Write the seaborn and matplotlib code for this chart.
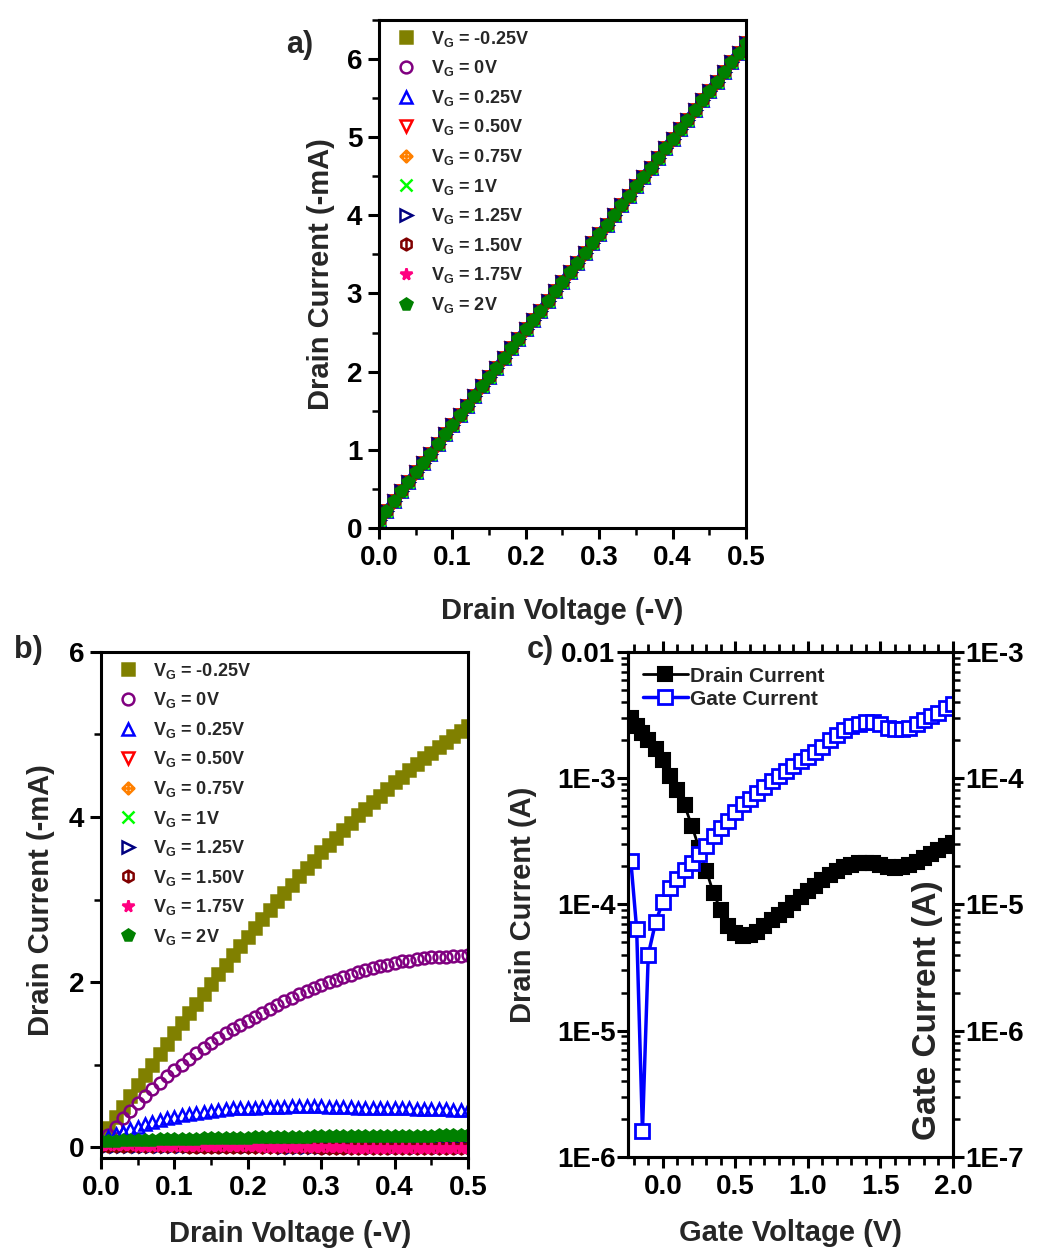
import numpy as np
import matplotlib
matplotlib.use("Agg")
import matplotlib.pyplot as plt
import seaborn as sns
from matplotlib.path import Path
from matplotlib.ticker import MultipleLocator, LogLocator, NullFormatter, FixedLocator

# ---------------------------------------------
# DATA
# ---------------------------------------------
# drain voltage sweep (-V), panels a and b
vd = [0.00, 0.01, 0.02, 0.03, 0.04, 0.05, 0.06, 0.07, 0.08, 0.09,
      0.10, 0.11, 0.12, 0.13, 0.14, 0.15, 0.16, 0.17, 0.18, 0.19,
      0.20, 0.21, 0.22, 0.23, 0.24, 0.25, 0.26, 0.27, 0.28, 0.29,
      0.30, 0.31, 0.32, 0.33, 0.34, 0.35, 0.36, 0.37, 0.38, 0.39,
      0.40, 0.41, 0.42, 0.43, 0.44, 0.45, 0.46, 0.47, 0.48, 0.49,
      0.50]

vg_labels = ["-0.25V", "0V", "0.25V", "0.50V", "0.75V",
             "1V", "1.25V", "1.50V", "1.75V", "2V"]

# panel a: all gate voltages lie on the same straight line (-mA)
ia_all = [0.10, 0.22, 0.34, 0.47, 0.59, 0.71, 0.83, 0.95, 1.08, 1.20,
          1.32, 1.44, 1.56, 1.69, 1.81, 1.93, 2.05, 2.17, 2.30, 2.42,
          2.54, 2.66, 2.78, 2.91, 3.03, 3.15, 3.27, 3.39, 3.52, 3.64,
          3.76, 3.88, 4.00, 4.13, 4.25, 4.37, 4.49, 4.61, 4.74, 4.86,
          4.98, 5.10, 5.22, 5.35, 5.47, 5.59, 5.71, 5.83, 5.96, 6.08,
          6.20]

# panel b: drain current (-mA) for each gate voltage
ib_m025 = [0.10, 0.23, 0.36, 0.49, 0.62, 0.75, 0.88, 1.00, 1.13, 1.25,
           1.38, 1.50, 1.62, 1.74, 1.86, 1.98, 2.10, 2.21, 2.33, 2.44,
           2.55, 2.66, 2.77, 2.87, 2.98, 3.08, 3.18, 3.28, 3.38, 3.47,
           3.57, 3.66, 3.75, 3.84, 3.93, 4.02, 4.10, 4.18, 4.26, 4.34,
           4.42, 4.49, 4.57, 4.64, 4.71, 4.78, 4.85, 4.91, 4.98, 5.04,
           5.10]
ib_000 = [0.05, 0.15, 0.25, 0.35, 0.44, 0.53, 0.62, 0.70, 0.78, 0.86,
          0.93, 1.00, 1.07, 1.14, 1.20, 1.26, 1.32, 1.38, 1.43, 1.48,
          1.53, 1.58, 1.63, 1.68, 1.72, 1.77, 1.81, 1.85, 1.89, 1.93,
          1.96, 2.00, 2.03, 2.06, 2.09, 2.12, 2.15, 2.17, 2.19, 2.21,
          2.23, 2.25, 2.26, 2.28, 2.29, 2.30, 2.31, 2.31, 2.32, 2.32,
          2.33]
ib_025 = [0.08, 0.12, 0.16, 0.19, 0.22, 0.25, 0.28, 0.31, 0.33, 0.35,
          0.37, 0.39, 0.40, 0.42, 0.43, 0.44, 0.45, 0.46, 0.47, 0.47,
          0.48, 0.48, 0.49, 0.49, 0.49, 0.49, 0.50, 0.50, 0.50, 0.50,
          0.50, 0.49, 0.49, 0.49, 0.49, 0.48, 0.48, 0.48, 0.48, 0.47,
          0.47, 0.47, 0.47, 0.46, 0.46, 0.46, 0.46, 0.46, 0.45, 0.45,
          0.45]
ib_050 = [0.04, 0.04, 0.04, 0.04, 0.04, 0.04, 0.03, 0.03, 0.03, 0.03,
          0.03, 0.03, 0.03, 0.03, 0.03, 0.03, 0.03, 0.03, 0.03, 0.03,
          0.02, 0.02, 0.02, 0.02, 0.02, 0.02, 0.02, 0.02, 0.02, 0.02,
          0.02, 0.02, 0.02, 0.02, 0.02, 0.02, 0.02, 0.02, 0.02, 0.02,
          0.02, 0.02, 0.02, 0.02, 0.02, 0.02, 0.02, 0.02, 0.02, 0.02,
          0.02]
ib_075 = [0.03, 0.03, 0.03, 0.03, 0.03, 0.03, 0.03, 0.03, 0.03, 0.03,
          0.03, 0.03, 0.03, 0.03, 0.03, 0.03, 0.03, 0.03, 0.03, 0.03,
          0.03, 0.03, 0.03, 0.03, 0.03, 0.03, 0.03, 0.03, 0.03, 0.03,
          0.03, 0.03, 0.03, 0.03, 0.03, 0.03, 0.03, 0.03, 0.03, 0.03,
          0.03, 0.03, 0.03, 0.03, 0.03, 0.03, 0.03, 0.03, 0.03, 0.03,
          0.03]
ib_100 = [0.06, 0.06, 0.06, 0.06, 0.06, 0.06, 0.06, 0.06, 0.06, 0.06,
          0.06, 0.06, 0.06, 0.06, 0.06, 0.06, 0.06, 0.06, 0.06, 0.06,
          0.06, 0.06, 0.06, 0.06, 0.06, 0.07, 0.07, 0.07, 0.07, 0.07,
          0.07, 0.07, 0.07, 0.07, 0.07, 0.07, 0.07, 0.07, 0.07, 0.07,
          0.07, 0.07, 0.07, 0.07, 0.07, 0.07, 0.07, 0.07, 0.07, 0.07,
          0.07]
ib_125 = [0.02, 0.02, 0.02, 0.02, 0.02, 0.02, 0.02, 0.02, 0.02, 0.02,
          0.01, 0.01, 0.01, 0.01, 0.01, 0.01, 0.01, 0.01, 0.01, 0.01,
          0.01, 0.01, 0.01, 0.01, 0.01, 0.00, 0.00, 0.00, 0.00, 0.00,
          0.00, 0.00, 0.00, 0.00, 0.00, 0.00, 0.00, 0.00, 0.00, 0.00,
          0.00, 0.00, 0.00, 0.00, 0.00, 0.00, 0.00, 0.00, 0.00, 0.00,
          0.00]
ib_150 = [0.01, 0.01, 0.01, 0.01, 0.01, 0.01, 0.01, 0.01, 0.01, 0.01,
          0.01, 0.01, 0.00, 0.00, 0.00, 0.00, 0.00, 0.00, 0.00, 0.00,
          0.00, 0.00, 0.00, 0.00, 0.00, 0.00, 0.00, 0.00, 0.00, 0.00,
          -0.01, -0.01, -0.01, -0.01, -0.01, -0.01, -0.01, -0.01, -0.01, -0.01,
          -0.01, -0.01, -0.01, -0.01, -0.01, -0.01, -0.01, -0.01, -0.01, -0.01,
          -0.01]
ib_175 = [0.03, 0.03, 0.03, 0.03, 0.03, 0.02, 0.02, 0.02, 0.02, 0.02,
          0.02, 0.02, 0.02, 0.01, 0.01, 0.01, 0.01, 0.01, 0.01, 0.01,
          0.01, 0.01, 0.00, 0.00, 0.00, 0.00, 0.00, 0.00, 0.00, 0.00,
          0.00, 0.00, 0.00, 0.00, -0.01, -0.01, -0.01, -0.01, -0.01, -0.01,
          -0.01, -0.01, -0.01, -0.01, -0.01, -0.01, -0.01, -0.01, -0.01, -0.01,
          -0.01]
ib_200 = [0.08, 0.08, 0.08, 0.09, 0.09, 0.09, 0.09, 0.09, 0.10, 0.10,
          0.10, 0.10, 0.10, 0.10, 0.11, 0.11, 0.11, 0.11, 0.11, 0.11,
          0.11, 0.12, 0.12, 0.12, 0.12, 0.12, 0.12, 0.12, 0.12, 0.13,
          0.13, 0.13, 0.13, 0.13, 0.13, 0.13, 0.13, 0.13, 0.14, 0.14,
          0.14, 0.14, 0.14, 0.14, 0.14, 0.14, 0.15, 0.15, 0.15, 0.15,
          0.15]

# panel c: transfer curve
vg = [-0.22, -0.18, -0.14, -0.10, -0.05, 0.00, 0.05, 0.10, 0.15, 0.20,
      0.25, 0.30, 0.35, 0.40, 0.45, 0.50, 0.55, 0.60, 0.65, 0.70,
      0.75, 0.80, 0.85, 0.90, 0.95, 1.00, 1.05, 1.10, 1.15, 1.20,
      1.25, 1.30, 1.35, 1.40, 1.45, 1.50, 1.55, 1.60, 1.65, 1.70,
      1.75, 1.80, 1.85, 1.90, 1.95, 2.00]
id_c = [3.0e-3, 2.6e-3, 2.3e-3, 2.0e-3, 1.7e-3, 1.4e-3, 1.05e-3, 8.0e-4, 6.1e-4, 4.2e-4,
        2.8e-4, 1.85e-4, 1.23e-4, 9.0e-5, 6.8e-5, 5.9e-5, 5.6e-5, 5.7e-5, 6.1e-5, 6.7e-5,
        7.5e-5, 8.2e-5, 9.1e-5, 1.02e-4, 1.14e-4, 1.27e-4, 1.40e-4, 1.55e-4, 1.70e-4, 1.85e-4,
        1.97e-4, 2.07e-4, 2.13e-4, 2.15e-4, 2.12e-4, 2.05e-4, 1.98e-4, 1.95e-4, 1.98e-4, 2.06e-4,
        2.18e-4, 2.35e-4, 2.52e-4, 2.70e-4, 2.88e-4, 3.05e-4]
ig_c = [2.2e-5, 6.4e-6, 1.6e-7, 4.0e-6, 7.2e-6, 1.05e-5, 1.35e-5, 1.6e-5, 1.87e-5, 2.15e-5,
        2.5e-5, 2.9e-5, 3.5e-5, 4.0e-5, 4.6e-5, 5.4e-5, 6.2e-5, 6.9e-5, 7.7e-5, 8.6e-5,
        9.5e-5, 1.04e-4, 1.14e-4, 1.25e-4, 1.36e-4, 1.48e-4, 1.6e-4, 1.78e-4, 2.0e-4, 2.2e-4,
        2.4e-4, 2.6e-4, 2.7e-4, 2.77e-4, 2.77e-4, 2.7e-4, 2.5e-4, 2.45e-4, 2.45e-4, 2.5e-4,
        2.7e-4, 2.9e-4, 3.1e-4, 3.3e-4, 3.6e-4, 3.9e-4]

ib_curves = [ib_m025, ib_000, ib_025, ib_050, ib_075,
             ib_100, ib_125, ib_150, ib_175, ib_200]
ia_curves = [ia_all] * len(vg_labels)

# ---------------------------------------------
# STYLE
# ---------------------------------------------
diamond_plus = Path([(0, 1), (1, 0), (0, -1), (-1, 0), (0, 1),
                     (0, 1), (0, -1), (-1, 0), (1, 0)],
                    [Path.MOVETO, Path.LINETO, Path.LINETO, Path.LINETO, Path.CLOSEPOLY,
                     Path.MOVETO, Path.LINETO, Path.MOVETO, Path.LINETO])
hex_bar = Path([(0, 1), (0.87, 0.5), (0.87, -0.5), (0, -1), (-0.87, -0.5), (-0.87, 0.5), (0, 1),
                (0, 1), (0, -1)],
               [Path.MOVETO, Path.LINETO, Path.LINETO, Path.LINETO, Path.LINETO, Path.LINETO,
                Path.CLOSEPOLY, Path.MOVETO, Path.LINETO])

colors  = ["#808000", "#800080", "#0000FF", "#FF0000", "#FF8000",
           "#00FF00", "#000080", "#800000", "#FF0080", "#008000"]
markers = ["s", "o", "^", "v", diamond_plus, "x", ">", hex_bar, "*", "p"]
filled  = [True, False, False, False, False, False, False, False, True, True]

sns.set_style("ticks")
plt.rcParams["font.family"] = ["Liberation Sans", "DejaVu Sans"]
plt.rcParams["font.weight"] = "bold"
plt.rcParams["axes.labelweight"] = "bold"
plt.rcParams["mathtext.fontset"] = "custom"
plt.rcParams["mathtext.rm"] = "Liberation Sans:bold"
plt.rcParams["mathtext.default"] = "rm"
plt.rcParams["axes.linewidth"] = 2.2
plt.rcParams["axes.edgecolor"] = "black"

TICK = 20
LABEL = 21


def style_ticks(ax, pad=4):
    ax.tick_params(which="major", direction="out", length=8, width=2.2,
                   labelsize=TICK, colors="black", pad=pad)
    ax.tick_params(which="minor", direction="out", length=5, width=1.8,
                   color="black")
    for lab in ax.get_xticklabels() + ax.get_yticklabels():
        lab.set_fontweight("bold")


def draw_output(ax, curves):
    for lab, col, mk, fill, ys in zip(vg_labels, colors, markers, filled, curves):
        sns.lineplot(x=vd, y=ys, ax=ax, color=col, marker=mk, markersize=8.5,
                     markerfacecolor=col if fill else "none", markeredgecolor=col,
                     markeredgewidth=1.8, linestyle="none", errorbar=None,
                     label=r"V$_{\mathregular{G}}$ = " + lab)
    ax.set_xlim(0, 0.5)
    ax.xaxis.set_major_locator(MultipleLocator(0.1))
    ax.xaxis.set_minor_locator(MultipleLocator(0.05))
    ax.set_xlabel("Drain Voltage (-V)", fontsize=LABEL, fontweight="bold")
    ax.set_ylabel("Drain Current (-mA)", fontsize=LABEL, fontweight="bold")
    ax.legend(loc="upper left", bbox_to_anchor=(0.02, 1.004), frameon=False,
              fontsize=13, handlelength=1.0, handletextpad=0.9,
              labelspacing=0.53, borderaxespad=0.2, markerscale=1.0)
    style_ticks(ax)


fig = plt.figure(figsize=(10.4, 12.57), dpi=100)

# ---- panel a
ax_a = fig.add_axes([0.3644, 0.5800, 0.3529, 0.4041])
draw_output(ax_a, ia_curves)
ax_a.set_ylim(0, 6.5)
ax_a.yaxis.set_major_locator(MultipleLocator(1))
ax_a.yaxis.set_minor_locator(MultipleLocator(0.5))
ax_a.xaxis.set_label_coords(0.5, -0.136)
ax_a.yaxis.set_label_coords(-0.12, 0.5)

# ---- panel b
ax_b = fig.add_axes([0.0971, 0.0788, 0.3529, 0.4026])
draw_output(ax_b, ib_curves)
ax_b.set_ylim(-0.13, 6)
ax_b.yaxis.set_major_locator(MultipleLocator(2))
ax_b.yaxis.set_minor_locator(MultipleLocator(1))
ax_b.xaxis.set_label_coords(0.515, -0.123)
ax_b.yaxis.set_label_coords(-0.125, 0.51)

# ---- panel c
ax_c = fig.add_axes([0.6038, 0.0796, 0.3125, 0.4017])
ax_g = ax_c.twinx()
sns.lineplot(x=vg, y=id_c, ax=ax_c, color="black", marker="s", markersize=10,
             markerfacecolor="black", markeredgecolor="black", markeredgewidth=1.5,
             linewidth=2, errorbar=None, label="Drain Current", legend=False)
sns.lineplot(x=vg, y=ig_c, ax=ax_g, color="#0000FF", marker="s", markersize=10,
             markerfacecolor="white", markeredgecolor="#0000FF", markeredgewidth=2,
             linewidth=2.5, errorbar=None, label="Gate Current", legend=False)

ax_c.set_yscale("log")
ax_g.set_yscale("log")
ax_c.set_ylim(1e-6, 1e-2)
ax_g.set_ylim(1e-7, 1e-3)
ax_c.set_xlim(-0.24, 2.0)
ax_c.set_xticks([0.0, 0.5, 1.0, 1.5, 2.0])
ax_c.xaxis.set_minor_locator(MultipleLocator(0.1))
ax_c.yaxis.set_major_locator(FixedLocator([1e-6, 1e-5, 1e-4, 1e-3, 1e-2]))
ax_c.set_yticklabels(["1E-6", "1E-5", "1E-4", "1E-3", "0.01"])
ax_g.yaxis.set_major_locator(FixedLocator([1e-7, 1e-6, 1e-5, 1e-4, 1e-3]))
ax_g.set_yticklabels(["1E-7", "1E-6", "1E-5", "1E-4", "1E-3"])
for ax in (ax_c, ax_g):
    ax.yaxis.set_minor_locator(LogLocator(base=10, subs=np.arange(2, 10)))
    ax.yaxis.set_minor_formatter(NullFormatter())
    style_ticks(ax, pad=1)
ax_c.tick_params(axis="x", pad=4)
ax_c.tick_params(axis="x", which="both", top=True, labeltop=False)
ax_c.tick_params(axis="x", which="major", length=8, width=2.2, color="black")
ax_c.tick_params(axis="x", which="minor", length=6, width=2.0, color="black")

ax_c.set_xlabel("Gate Voltage (V)", fontsize=LABEL, fontweight="bold")
ax_c.set_ylabel("Drain Current (A)", fontsize=LABEL, fontweight="bold")
ax_g.set_ylabel("Gate Current (A)", fontsize=24, fontweight="bold",
                rotation=90)
ax_c.xaxis.set_label_coords(0.5, -0.123)
ax_c.yaxis.set_label_coords(-0.28, 0.5)
ax_g.yaxis.set_label_coords(0.875, 0.29)

h1, l1 = ax_c.get_legend_handles_labels()
h2, l2 = ax_g.get_legend_handles_labels()
ax_g.legend(h1 + h2, l1 + l2, loc="upper left", bbox_to_anchor=(0.0, 1.0),
            frameon=False, fontsize=15, handlelength=2.2, handletextpad=0.1,
            labelspacing=0.2, borderaxespad=0.3)

# panel letters
fig.text(300 / 1040, 1 - 45 / 1257, "a)", fontsize=22, fontweight="bold",
         ha="center", va="center")
fig.text(28 / 1040, 1 - 650 / 1257, "b)", fontsize=22, fontweight="bold",
         ha="center", va="center")
fig.text(540 / 1040, 1 - 650 / 1257, "c)", fontsize=22, fontweight="bold",
         ha="center", va="center")

fig.savefig("out.png", dpi=100)
